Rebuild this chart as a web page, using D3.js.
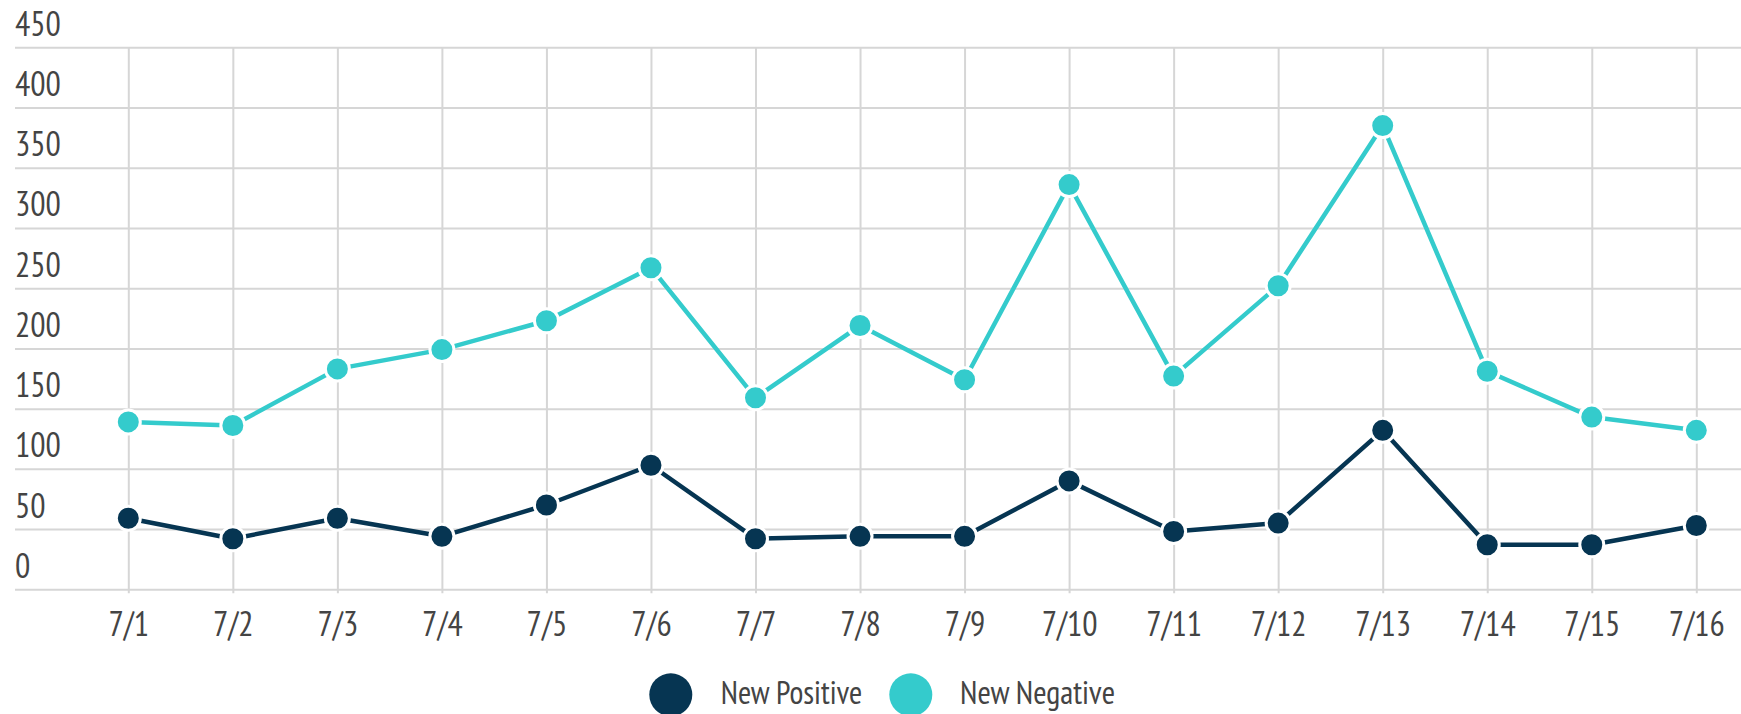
<!DOCTYPE html>
<html>
<head>
<meta charset="utf-8">
<script src="https://cdn.jsdelivr.net/npm/d3@7"></script>
<style>
  html, body { margin: 0; padding: 0; background: #ffffff; }
  svg { display: block; }
  text { font-family: "PT Sans Narrow", "Liberation Sans Narrow", "Arial Narrow", "DejaVu Sans Condensed", sans-serif; font-stretch: condensed; fill: #444444; }
</style>
</head>
<body>
<svg id="chart" width="1741" height="714"></svg>
<script>
const categories = ["7/1","7/2","7/3","7/4","7/5","7/6","7/7","7/8","7/9","7/10","7/11","7/12","7/13","7/14","7/15","7/16"];
const newPositive = [59, 42, 59, 44, 70, 103, 42, 44, 44, 90, 48, 55, 132, 37, 37, 53];
const newNegative = [139, 136, 183, 199, 223, 267, 159, 219, 174, 336, 177, 252, 385, 181, 143, 132];
const yTicks = [0, 50, 100, 150, 200, 250, 300, 350, 400, 450];
const seriesNames = ["New Positive", "New Negative"];
const seriesColors = ["#063552", "#34cbcc"];

const W = 1741, H = 714;
const gridLeft = 15, plotTop = 47.3, plotBottom = 589.3;
const svg = d3.select("#chart");

const x = d3.scalePoint().domain(categories).range([128.3, 1696.3]);
const y = d3.scaleLinear().domain([0, 450]).range([plotBottom, plotTop]);

// horizontal gridlines + y labels
const yAxis = d3.axisRight(y).tickValues(yTicks).tickSize(W - gridLeft).tickFormat(d => d);
const gy = svg.append("g").attr("transform", `translate(${gridLeft},0)`).call(yAxis);
gy.select(".domain").remove();
gy.selectAll(".tick line").attr("stroke", "#d6d6d6").attr("stroke-width", 2);
gy.selectAll(".tick text")
  .attr("x", 0).attr("dy", -12).attr("text-anchor", "start")
  .attr("fill", "#444444").style("font-size", "34px");

// vertical gridlines
const xGrid = d3.axisBottom(x).tickSize(-(plotBottom - plotTop)).tickFormat("");
const gxg = svg.append("g").attr("transform", `translate(0,${plotBottom})`).call(xGrid);
gxg.select(".domain").remove();
gxg.selectAll(".tick line").attr("stroke", "#d6d6d6").attr("stroke-width", 2).attr("y2", -(plotBottom - plotTop)).attr("y1", 4);

// x labels
const xAxis = d3.axisBottom(x).tickSize(0);
const gx = svg.append("g").attr("transform", `translate(0,${plotBottom})`).call(xAxis);
gx.select(".domain").remove();
gx.selectAll(".tick text").attr("y", 47).attr("dy", 0)
  .attr("fill", "#444444").style("font-size", "34px");

// series
const series = [newPositive, newNegative];
const line = d3.line().x((d, i) => x(categories[i])).y(d => y(d));
series.forEach((vals, si) => {
  const g = svg.append("g");
  g.append("path").datum(vals)
    .attr("fill", "none").attr("stroke", seriesColors[si]).attr("stroke-width", 4.5)
    .attr("stroke-linejoin", "round").attr("d", line);
  g.selectAll("circle").data(vals).join("circle")
    .attr("cx", (d, i) => x(categories[i])).attr("cy", d => y(d))
    .attr("r", 12).attr("fill", seriesColors[si])
    .attr("stroke", "#ffffff").attr("stroke-width", 3);
});

// legend
const legendX = [670.8, 910.8];
const legendTextX = [720.7, 960];
const legendTextLen = [141.6, 155];
const lg = svg.append("g");
seriesNames.forEach((name, i) => {
  lg.append("circle").attr("cx", legendX[i]).attr("cy", 694.8).attr("r", 21.5).attr("fill", seriesColors[i]);
  lg.append("text").attr("x", legendTextX[i]).attr("y", 704)
    .attr("textLength", legendTextLen[i]).attr("lengthAdjust", "spacingAndGlyphs")
    .style("font-size", "33px").text(name);
});
</script>
</body>
</html>
